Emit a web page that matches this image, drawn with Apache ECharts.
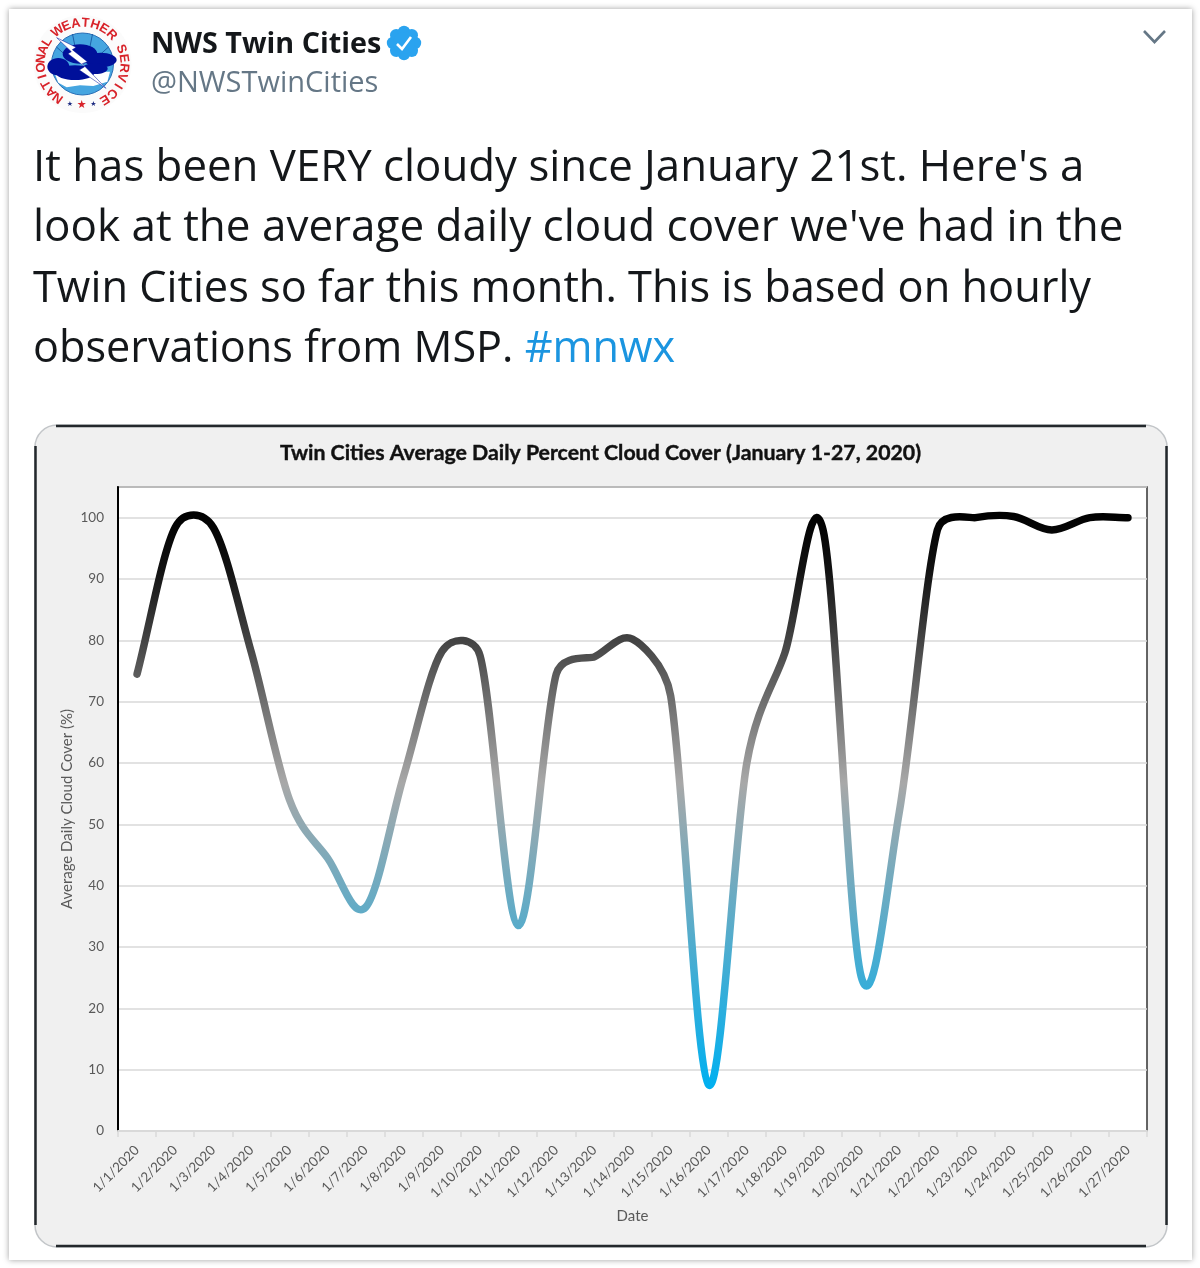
<!DOCTYPE html>
<html>
<head>
<meta charset="utf-8">
<style>html,body{margin:0;padding:0;background:#fff}#chart{width:1200px;height:1268px}</style>
<script src="https://cdn.jsdelivr.net/npm/echarts@6/dist/echarts.min.js"></script>
</head>
<body>
<div id="chart"></div>
<script>
// Daily series
const dates = ['1/1/2020','1/2/2020','1/3/2020','1/4/2020','1/5/2020','1/6/2020','1/7/2020','1/8/2020','1/9/2020','1/10/2020','1/11/2020','1/12/2020','1/13/2020','1/14/2020','1/15/2020','1/16/2020','1/17/2020','1/18/2020','1/19/2020','1/20/2020','1/21/2020','1/22/2020','1/23/2020','1/24/2020','1/25/2020','1/26/2020','1/27/2020'];
const cloudCover = [74.5,98.4,98.4,78,54,44.5,36.5,58,78.2,77.5,33.5,74.5,77.3,80.2,71,7.5,60,78,98,25.2,52,98,100,100.2,98,100,100];

// Tweet copy
const tweetName = 'NWS Twin Cities';
const tweetHandle = '@NWSTwinCities';
const tweetLines = [
  "It has been VERY cloudy since January 21st. Here's a",
  "look at the average daily cloud cover we've had in the",
  "Twin Cities so far this month. This is based on hourly"
];
const tweetLastLine = 'observations from MSP. ';
const tweetTag = '#mnwx';
const chartTitle = 'Twin Cities Average Daily Percent Cloud Cover (January 1-27, 2020)';
const sealTop = 'WEATHER';
const sealLeft = 'NATIONAL';
const sealRight = 'SERVICE';

const uiFont = '"Open Sans", "Noto Sans", sans-serif';
const chartFont = 'Lato, "Open Sans", sans-serif';
const lineScale = [0.995, 1, 0.985];
const cx = 82.5, cy = 64;
const navy = '#00109a';

// Seal artwork is laid out on a 315-unit square
const sp = (x, y) => [30 + x / 3, 10 + y / 3];
const sealEllipse = (x, y, rx, ry, fill) => ({
  type: 'ellipse', z: 3,
  shape: { cx: 30 + x / 3, cy: 10 + y / 3, rx: rx / 3, ry: ry / 3 },
  style: { fill }
});

// Letters set around the seal's ring, angle in degrees clockwise from 12 o'clock
function ringLetters(word, startAngle, step, radius) {
  return word.split('').map((ch, i) => {
    const a = (startAngle + i * step) * Math.PI / 180;
    return {
      type: 'text', z: 5,
      x: cx + radius * Math.sin(a), y: cy - radius * Math.cos(a),
      rotation: -a,
      style: { text: ch, fill: '#d8232a', font: 'bold 13px "Liberation Sans", sans-serif', textAlign: 'center', textVerticalAlign: 'middle' }
    };
  });
}

const sealStar = (x, y, size, fill) => ({
  type: 'text', z: 5, x, y,
  style: { text: '★', fill, font: size + 'px "DejaVu Sans"', textAlign: 'center', textVerticalAlign: 'middle' }
});

const sealParts = [
  { type: 'circle', z: 1, shape: { cx, cy, r: 49 }, style: { fill: '#fbfbfb' } },
  { type: 'circle', z: 2, shape: { cx, cy, r: 31 }, style: { fill: '#45a5e0', stroke: '#2a6fb5', lineWidth: 1 } },
  { type: 'line', z: 2, shape: { x1: cx - 10, y1: cy - 30, x2: cx - 7, y2: cy - 15 }, style: { stroke: '#1d5fa8', lineWidth: 1 } },
  { type: 'line', z: 2, shape: { x1: cx + 10, y1: cy - 30, x2: cx + 7, y2: cy - 15 }, style: { stroke: '#1d5fa8', lineWidth: 1 } },
  { type: 'line', z: 2, shape: { x1: cx - 26, y1: cy - 17, x2: cx - 16, y2: cy - 8 }, style: { stroke: '#1d5fa8', lineWidth: 1 } },
  { type: 'line', z: 2, shape: { x1: cx + 26, y1: cy - 17, x2: cx + 16, y2: cy - 8 }, style: { stroke: '#1d5fa8', lineWidth: 1 } },
  { type: 'polygon', z: 2, shape: { points: [sp(72,185),sp(240,185),sp(232,215),sp(190,228),sp(150,226),sp(110,232),sp(85,218)] }, style: { fill: '#fff' } },
  sealEllipse(85, 170, 33, 26, navy),
  sealEllipse(150, 132, 52, 29, navy),
  sealEllipse(212, 150, 48, 22, navy),
  sealEllipse(135, 188, 58, 22, navy),
  sealEllipse(195, 176, 38, 16, navy),
  { type: 'polygon', z: 4, shape: { points: [sp(80,83),sp(138,112),sp(127,119),sp(172,155),sp(157,161),sp(228,235),sp(148,180),sp(164,170),sp(114,131),sp(124,125)] }, style: { fill: '#fff', stroke: navy, lineWidth: 0.5 } },
  ...ringLetters(sealTop, -37, 13.7, 41),
  ...ringLetters(sealLeft, -144, 12.3, 41.5),
  ...ringLetters(sealRight, 69, 13.2, 41.5),
  sealStar(81.7, 105.5, 11, '#d8232a'),
  sealStar(70, 104, 7, '#1b2a80'),
  sealStar(93.3, 104, 7, '#1b2a80')
];

// Verified badge: a ring of lobes behind a white check mark
const badgeLobes = [0,1,2,3,4,5,6,7].map(i => ({
  type: 'circle', z: 5,
  shape: { cx: 404 + 11 * Math.cos(i * Math.PI / 4), cy: 43 + 11 * Math.sin(i * Math.PI / 4), r: 6.2 },
  style: { fill: '#2aa3ef' }
}));

const graphics = [
  // Tweet card and its soft edge
  { type: 'rect', z: -20, shape: { x: 9, y: 9, width: 1183, height: 1251 }, style: { fill: '#fff', shadowBlur: 6, shadowColor: 'rgba(0,0,0,0.38)' } },
  // Chart panel
  { type: 'rect', z: -10, shape: { x: 35, y: 425, width: 1132, height: 822, r: 22 }, style: { fill: '#f0f0f0', stroke: '#c3c6c9', lineWidth: 1.5 } },
  { type: 'line', z: -9, shape: { x1: 56, y1: 426, x2: 1146, y2: 426 }, style: { stroke: '#23282c', lineWidth: 2.5 } },
  { type: 'line', z: -9, shape: { x1: 56, y1: 1246, x2: 1146, y2: 1246 }, style: { stroke: '#23282c', lineWidth: 2.5 } },
  { type: 'line', z: -9, shape: { x1: 35.5, y1: 446, x2: 35.5, y2: 1225 }, style: { stroke: '#23282c', lineWidth: 2.5 } },
  { type: 'line', z: -9, shape: { x1: 1166.5, y1: 446, x2: 1166.5, y2: 1225 }, style: { stroke: '#23282c', lineWidth: 2.5 } },
  ...sealParts,
  ...badgeLobes,
  { type: 'circle', z: 5, shape: { cx: 404, cy: 43, r: 11 }, style: { fill: '#2aa3ef' } },
  { type: 'polyline', z: 6, shape: { points: [[397,44],[402,49],[411,37]] }, style: { stroke: '#fff', lineWidth: 2.6, fill: 'none' } },
  { type: 'polyline', z: 6, shape: { points: [[1144,31],[1154.5,42],[1165,31]] }, style: { stroke: '#657786', lineWidth: 2.6, fill: 'none' } },
  { type: 'text', z: 6, x: 151, y: 45, scaleX: 0.99, style: { text: tweetName, fill: '#14171a', font: 'bold 29px ' + uiFont, textVerticalAlign: 'middle' } },
  { type: 'text', z: 6, x: 151, y: 84, style: { text: tweetHandle, fill: '#657786', font: '29px ' + uiFont, textVerticalAlign: 'middle' } },
  ...tweetLines.map((t, i) => ({ type: 'text', z: 6, x: 33, y: 168 + i * 60.5, scaleX: lineScale[i], style: { text: t, fill: '#14171a', font: '44px ' + uiFont, textVerticalAlign: 'middle' } })),
  { type: 'text', z: 6, x: 33, y: 349, scaleX: 0.982, style: { text: '{a|' + tweetLastLine + '}{b|' + tweetTag + '}', rich: { a: { fill: '#14171a', font: '44px ' + uiFont }, b: { fill: '#1b95e0', font: '44px ' + uiFont } }, textVerticalAlign: 'middle' } },
  { type: 'text', z: 6, x: 600.5, y: 453, style: { text: chartTitle, fill: '#111', stroke: '#111', lineWidth: 0.4, font: 'bold 21.3px ' + chartFont, textAlign: 'center', textVerticalAlign: 'middle' } }
];

// Spreadsheet-style smoothed line: cubic segments whose handle lengths shrink
// when a neighbouring span is much longer than the segment itself
function segmentHandles(p0, p1, p2, p3) {
  const dist = (a, b) => Math.hypot(a[0] - b[0], a[1] - b[1]);
  const d12 = dist(p1, p2), d02 = dist(p0, p2), d13 = dist(p1, p3);
  let f = p0 === p1 ? 1 / 3 : 1 / 6;
  let g = p2 === p3 ? 1 / 3 : 1 / 6;
  const longBefore = d02 / 6 >= d12 / 2, longAfter = d13 / 6 >= d12 / 2;
  if (longBefore && longAfter) {
    f = d12 / 2 / d02; g = d12 / 2 / d13;
  } else if (longBefore) {
    f = d12 / 2 / d02; g = d12 / 2 / d02;
  } else if (longAfter) {
    f = d12 / 2 / d13; g = d12 / 2 / d13;
  }
  return [
    [p1[0] + (p2[0] - p0[0]) * f, p1[1] + (p2[1] - p0[1]) * f],
    [p2[0] + (p1[0] - p3[0]) * g, p2[1] + (p1[1] - p3[1]) * g]
  ];
}

echarts.graphic.registerShape('dailySpline', echarts.graphic.extendShape({
  shape: { points: [] },
  buildPath(ctx, shape) {
    const p = shape.points;
    ctx.moveTo(p[0][0], p[0][1]);
    for (let i = 0; i < p.length - 1; i++) {
      const [h1, h2] = segmentHandles(p[Math.max(i - 1, 0)], p[i], p[i + 1], p[Math.min(i + 2, p.length - 1)]);
      ctx.bezierCurveTo(h1[0], h1[1], h2[0], h2[1], p[i + 1][0], p[i + 1][1]);
    }
  }
}));

const lineGradient = new echarts.graphic.LinearGradient(0, 0, 0, 1, [
  { offset: 0, color: '#000' }, { offset: 0.1, color: '#111' },
  { offset: 0.47, color: '#a8a8a8' }, { offset: 1, color: '#00b0f0' }
]);

const chart = echarts.init(document.getElementById('chart'), null, { renderer: 'canvas' });
chart.setOption({
  animation: false,
  backgroundColor: '#fff',
  graphic: { elements: graphics },
  grid: { left: 118, top: 487, width: 1029, height: 644, show: true, backgroundColor: '#fff', borderColor: '#333', borderWidth: 1.5 },
  xAxis: {
    type: 'category', data: dates, boundaryGap: true,
    name: 'Date', nameLocation: 'middle', nameGap: 78, nameMoveOverlap: false,
    nameTextStyle: { color: '#595959', fontSize: 15, fontFamily: chartFont },
    axisLine: { lineStyle: { color: '#d9d9d9', width: 2 } },
    axisTick: { show: true, alignWithLabel: false, length: 6, lineStyle: { color: '#d9d9d9', width: 1.5 } },
    axisLabel: { rotate: 45, interval: 0, margin: 17, color: '#595959', fontSize: 13.5, fontFamily: chartFont },
    splitLine: { show: false }
  },
  yAxis: {
    type: 'value', min: 0, max: 105, interval: 10,
    name: 'Average Daily Cloud Cover (%)', nameLocation: 'middle', nameGap: 43, nameMoveOverlap: false,
    nameTextStyle: { color: '#595959', fontSize: 15, fontFamily: chartFont },
    axisLine: { show: true, lineStyle: { color: '#000', width: 2 } },
    axisTick: { show: false },
    axisLabel: { showMaxLabel: false, margin: 14, color: '#595959', fontSize: 13.5, fontFamily: chartFont },
    splitLine: { show: true, lineStyle: { color: '#d9d9d9', width: 1.5 } }
  },
  series: [{
    name: 'Average Daily Cloud Cover (%)',
    type: 'custom',
    coordinateSystem: 'cartesian2d',
    encode: { x: 0, y: 1 },
    data: cloudCover.map((v, i) => [i, v]),
    clip: false,
    silent: true,
    renderItem(params, api) {
      // The whole curve is one path, emitted once with the last point
      if (params.dataIndex !== cloudCover.length - 1) return null;
      return {
        type: 'dailySpline',
        shape: { points: cloudCover.map((v, i) => api.coord([i, v])) },
        style: { fill: 'none', stroke: lineGradient, lineWidth: 7.5, lineCap: 'round', lineJoin: 'round' }
      };
    }
  }]
});
</script>
</body>
</html>
